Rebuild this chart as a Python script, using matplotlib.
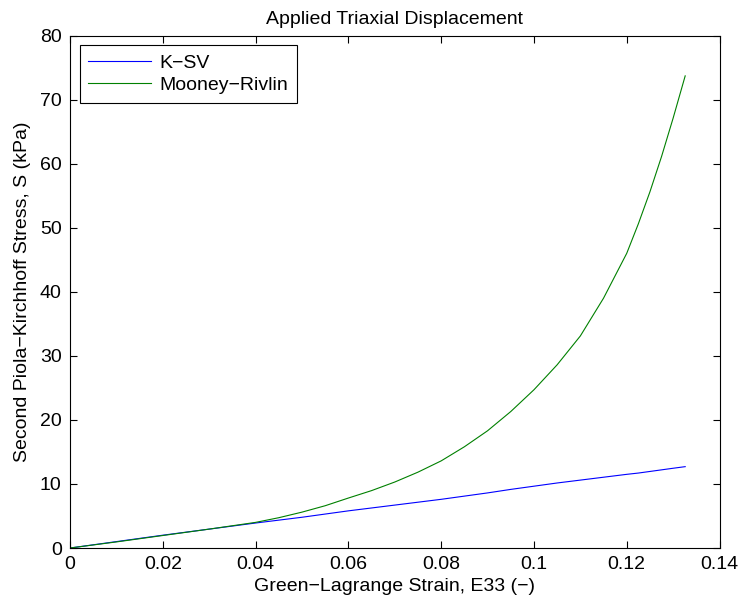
import matplotlib
matplotlib.use('Agg')
import matplotlib.pyplot as plt
import numpy as np

plt.rcParams['font.family'] = ['Liberation Sans', 'DejaVu Sans']

# strain values E33 and stress responses (kPa)
strain = [0, 0.01, 0.02, 0.03, 0.04, 0.045, 0.05, 0.055, 0.06, 0.065, 0.07,
          0.075, 0.08, 0.085, 0.09, 0.095, 0.10, 0.105, 0.11, 0.115, 0.12,
          0.1225, 0.125, 0.1275, 0.13, 0.1326]
ksv = [0, 1.0, 2.0, 2.95, 3.9, 4.35, 4.8, 5.3, 5.8, 6.25, 6.7,
       7.15, 7.6, 8.1, 8.6, 9.15, 9.65, 10.15, 10.6, 11.05, 11.5,
       11.7, 11.95, 12.2, 12.45, 12.7]
mooney = [0, 0.95, 1.95, 2.95, 4.0, 4.73, 5.6, 6.6, 7.8, 8.96, 10.3,
          11.84, 13.6, 15.8, 18.3, 21.3, 24.7, 28.6, 33.1, 39.0, 46.0,
          50.6, 55.6, 61.1, 67.1, 73.7]

fs = 14

fig = plt.figure(figsize=(7.44, 6.05), dpi=100)
ax = fig.add_axes([0.0941, 0.0942, 0.873, 0.8471])

ax.plot(strain, ksv, color=(0, 0, 1), lw=0.8, label='K\u2212SV')
ax.plot(strain, mooney, color=(0, 0.5, 0), lw=0.8, label='Mooney\u2212Rivlin')

ax.set_xlim(0, 0.14)
ax.set_ylim(0, 80)
ax.set_xticks(np.arange(0, 0.141, 0.02))
ax.set_xticklabels(['0', '0.02', '0.04', '0.06', '0.08', '0.1', '0.12', '0.14'])
ax.set_yticks(np.arange(0, 81, 10))
ax.tick_params(direction='in', top=True, right=True, labelsize=fs, length=5, pad=6)

ax.set_title('Applied Triaxial Displacement', fontsize=fs, pad=8)
ax.set_xlabel('Green\u2212Lagrange Strain, E33 (\u2212)', fontsize=fs, labelpad=3)
ax.set_ylabel('Second Piola\u2212Kirchhoff Stress, S (kPa)', fontsize=fs, labelpad=6)

leg = ax.legend(loc='upper left', fontsize=fs, fancybox=False, framealpha=1,
                edgecolor='black', handlelength=3.2, handletextpad=0.45,
                labelspacing=0.25, borderpad=0.45, borderaxespad=0.5)
leg.get_frame().set_linewidth(0.8)

fig.savefig('out.png', dpi=100)
